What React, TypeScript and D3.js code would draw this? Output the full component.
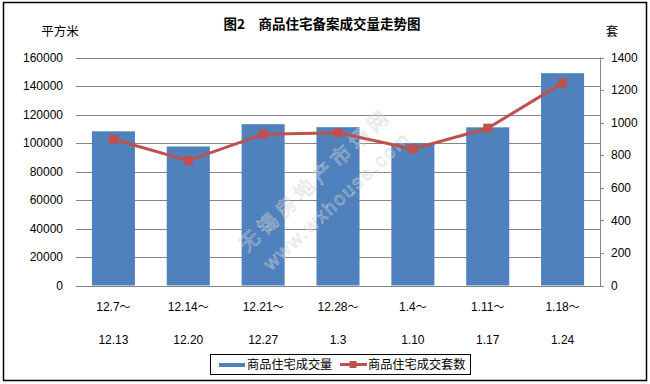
import React from "react";
import * as d3 from "d3";

const categoriesTop = ["12.7～", "12.14～", "12.21～", "12.28～", "1.4～", "1.11～", "1.18～"];
const categoriesBottom = ["12.13", "12.20", "12.27", "1.3", "1.10", "1.17", "1.24"];
const areaValues = [108200, 97600, 113200, 111100, 99800, 111000, 149000];
const unitValues = [898, 767, 929, 938, 838, 966, 1244];
const leftTicks = [0, 20000, 40000, 60000, 80000, 100000, 120000, 140000, 160000];
const rightTicks = [0, 200, 400, 600, 800, 1000, 1200, 1400];
const title = "图2　商品住宅备案成交量走势图";
const leftUnit = "平方米";
const rightUnit = "套";
const seriesNames = ["商品住宅成交量", "商品住宅成交套数"];

const W = 650;
const H = 384;
const plotL = 76;
const plotR = 600;
const plotT = 57.5;
const plotB = 285.5;
const barColor = "#4F81BD";
const lineColor = "#C0504D";
const gridColor = "#868686";
const font = "'Liberation Sans', Arial, sans-serif";
const cjkFont = "'Noto Sans CJK SC', 'Liberation Sans', sans-serif";

export default function App() {
  const idx = categoriesTop.map((_, i) => i);
  const x = d3.scaleBand<number>().domain(idx).range([plotL, plotR]).paddingInner(0.425).paddingOuter(0.2125);
  const yL = d3.scaleLinear().domain([0, 160000]).range([plotB, plotT]);
  const yR = d3.scaleLinear().domain([0, 1400]).range([plotB, plotT]);
  const cx = (i: number) => (x(i) as number) + x.bandwidth() / 2;
  const line = d3
    .line<number>()
    .x((_, i) => cx(i))
    .y((d) => yR(d));

  const splitTilde = (s: string) => {
    const base = s.replace("～", "");
    return (
      <>
        {base}
        <tspan fontFamily={cjkFont} fontSize={11}>～</tspan>
      </>
    );
  };

  return (
    <div style={{ position: "absolute", left: 0, top: 0 }}>
      <svg width={W} height={H} style={{ display: "block" }}>
        <rect x={0} y={0} width={W} height={H} fill="#fff" />
        <rect x={3.5} y={2.5} width={643} height={378} fill="#fff" stroke="#000" strokeWidth={1.5} />
        {/* gridlines */}
        {leftTicks.map((t) => (
          <line key={"g" + t} x1={plotL} x2={plotR} y1={Math.round(yL(t)) + 0.5} y2={Math.round(yL(t)) + 0.5} stroke={gridColor} strokeWidth={1} />
        ))}
        {/* bars */}
        {areaValues.map((v, i) => (
          <rect key={"b" + i} x={x(i)} width={x.bandwidth()} y={yL(v)} height={plotB - yL(v)} fill={barColor} />
        ))}
        {/* watermark */}
        <g fill="none" stroke="#d4d4d4" strokeWidth={0.6} opacity={0.8}>
          <text transform="translate(247,253) rotate(-43)" fontFamily={cjkFont} fontSize={20} textLength={195} lengthAdjust="spacing">
            无锡房地产市场网
          </text>
          <text transform="translate(271,271) rotate(-43)" fontFamily={font} fontSize={19} textLength={190} lengthAdjust="spacing">
            www.wxhouse.com
          </text>
        </g>
        {/* right axis */}
        <line x1={plotR + 0.5} x2={plotR + 0.5} y1={plotT} y2={plotB + 0.5} stroke={gridColor} strokeWidth={1} />
        {rightTicks.map((t) => (
          <line key={"rt" + t} x1={plotR} x2={plotR + 4} y1={Math.round(yR(t)) + 0.5} y2={Math.round(yR(t)) + 0.5} stroke={gridColor} strokeWidth={1} />
        ))}
        {rightTicks.map((t) => (
          <text key={"rl" + t} x={611} y={yR(t)} dy="0.35em" fontFamily={font} fontSize={12} fill="#000">
            {t}
          </text>
        ))}
        {leftTicks.map((t) => (
          <text key={"ll" + t} x={63} y={yL(t)} dy="0.35em" textAnchor="end" fontFamily={font} fontSize={12} fill="#000">
            {t}
          </text>
        ))}
        {/* line series */}
        <path d={line(unitValues) || ""} fill="none" stroke={lineColor} strokeWidth={3} strokeLinejoin="round" />
        {unitValues.map((v, i) => (
          <rect key={"m" + i} x={cx(i) - 4.5} y={yR(v) - 4.5} width={9} height={9} fill={lineColor} />
        ))}
        {/* x labels */}
        {categoriesTop.map((c, i) => (
          <text key={"xt" + i} x={cx(i)} y={307} dy="0.35em" textAnchor="middle" fontFamily={font} fontSize={12} fill="#000">
            {splitTilde(c)}
          </text>
        ))}
        {categoriesBottom.map((c, i) => (
          <text key={"xb" + i} x={cx(i)} y={340} dy="0.35em" textAnchor="middle" fontFamily={font} fontSize={12} fill="#000">
            {c}
          </text>
        ))}
        {/* titles */}
        <text x={322} y={24} dy="0.35em" textAnchor="middle" fontFamily={cjkFont} fontSize={13.5} fontWeight="bold" fill="#000">
          {title}
        </text>
        <text x={60} y={32} dy="0.35em" textAnchor="middle" fontFamily={cjkFont} fontSize={12.5} fill="#000">
          {leftUnit}
        </text>
        <text x={612} y={32} dy="0.35em" textAnchor="middle" fontFamily={cjkFont} fontSize={12.5} fill="#000">
          {rightUnit}
        </text>
        {/* legend */}
        <rect x={210.5} y={354.5} width={260} height={20} fill="#fff" stroke="#000" strokeWidth={1} />
        <rect x={219} y={363} width={26} height={4} fill={barColor} />
        <text x={247} y={364.5} dy="0.35em" fontFamily={cjkFont} fontSize={12.2} fill="#000">
          {seriesNames[0]}
        </text>
        <line x1={340} x2={367} y1={364.5} y2={364.5} stroke={lineColor} strokeWidth={3} />
        <rect x={349.5} y={361} width={7} height={7} fill={lineColor} />
        <text x={368} y={364.5} dy="0.35em" fontFamily={cjkFont} fontSize={12.2} fill="#000">
          {seriesNames[1]}
        </text>
      </svg>
    </div>
  );
}
